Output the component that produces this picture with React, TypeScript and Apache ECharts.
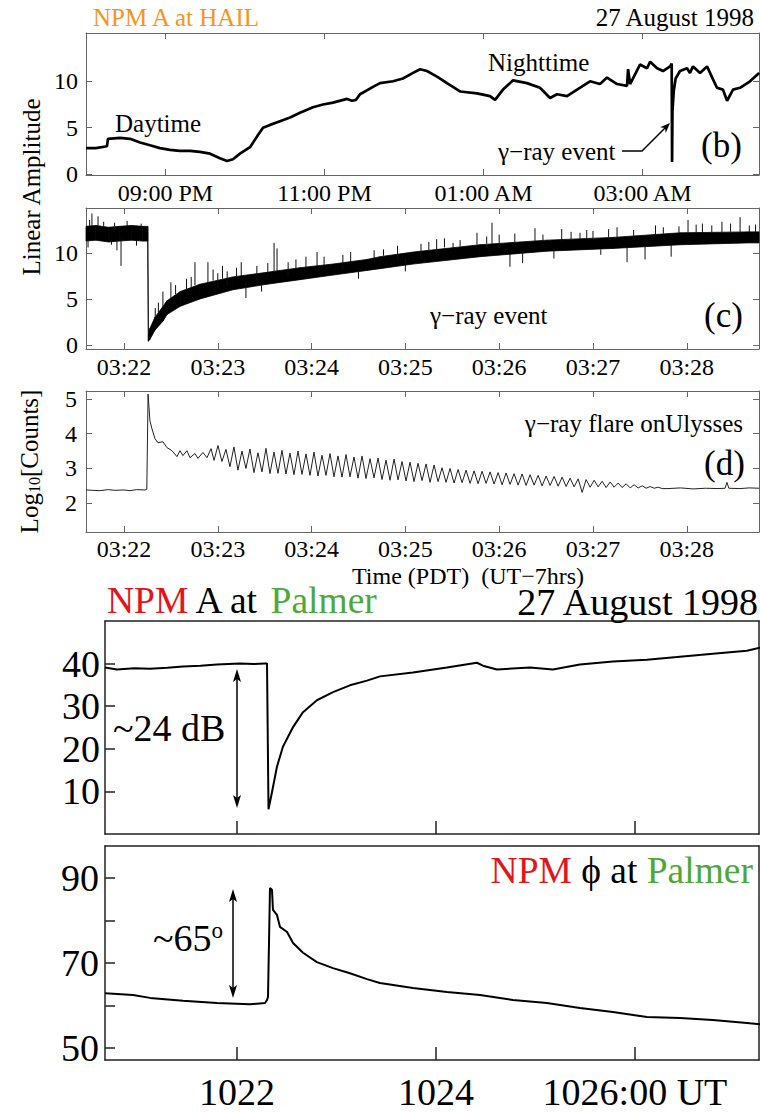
import React, { useEffect, useRef } from 'react';
import * as echarts from 'echarts';

const FONT = 'Liberation Serif';

// ---------- Panel (b): NPM A at HAIL, minutes after 20:00 PDT ----------
const bMinutes = [0, 7.5, 15.8, 16.6, 25.7, 33.2, 40.8, 48.3, 55.8, 63.4, 70.9, 78.5, 86.0, 93.6, 101.1, 106.4, 110.9, 116.2, 123.8, 129.8, 133.6, 138.9, 146.4, 154.0, 161.5, 171.3, 178.9, 186.4, 197.0, 200.8, 203.8, 206.8, 216.6, 221.9, 231.7, 239.2, 246.8, 252.1, 257.3, 264.9, 272.4, 282.3, 295.1, 304.9, 308.7, 314.7, 322.3, 332.8, 342.6, 350.2, 355.5, 363.0, 370.6, 380.4, 387.9, 393.2, 400.8, 408.3, 409.1, 410.6, 418.1, 423.4, 425.7, 431.0, 435.5, 440.8, 442.0, 442.3, 442.6, 443.6, 445.0, 448.3, 453.6, 455.8, 458.1, 463.4, 468.7, 473.2, 476.2, 480.7, 483.8, 488.3, 493.6, 501.1, 508.0];
const bAmplitude = [2.8, 2.8, 3.0, 3.8, 3.9, 3.8, 3.4, 3.1, 2.8, 2.6, 2.5, 2.5, 2.4, 2.2, 1.7, 1.4, 1.6, 2.2, 2.9, 4.2, 5.0, 5.3, 5.7, 6.1, 6.6, 7.2, 7.5, 7.7, 8.1, 7.9, 8.0, 8.6, 9.4, 9.8, 10.0, 10.3, 10.9, 11.3, 11.1, 10.5, 9.8, 8.9, 8.7, 8.4, 8.0, 9.1, 10.1, 9.8, 9.3, 8.2, 8.6, 8.4, 9.1, 10.0, 9.7, 10.4, 9.7, 9.5, 11.3, 9.7, 11.8, 11.4, 12.1, 11.4, 11.1, 11.6, 11.9, 1.3, 6.8, 9.0, 10.3, 11.1, 11.4, 10.9, 11.6, 10.9, 11.6, 10.2, 9.3, 9.1, 7.9, 9.1, 9.3, 10.0, 10.9];
const bTickMinutes = [60, 180, 300, 420];
const bTickLabels = ['09:00 PM', '11:00 PM', '01:00 AM', '03:00 AM'];
const bYTicks = [0, 5, 10];

// ---------- Panel (c): seconds after 03:22:00 PDT, noisy band ----------
const cSeconds = [-24.3, -18, -10, -3, 5, 12, 15.2, 15.6, 16.6, 19.8, 25, 27.5, 36, 48.6, 69.7, 91.5, 112.6, 133.7, 155.4, 163.8, 184.9, 227.7, 270.6, 312.8, 355.7, 398.5, 406.2];
const cLow = [11.3, 11.4, 11.2, 11.3, 11.4, 11.3, 11.3, 0.4, 0.6, 1.6, 2.6, 3.3, 4.2, 5.0, 6.0, 6.6, 7.1, 7.6, 8.1, 8.3, 8.8, 9.6, 10.2, 10.5, 10.9, 11.1, 11.1];
const cHigh = [12.9, 13.0, 12.8, 12.9, 13.0, 12.9, 12.9, 1.0, 1.8, 3.0, 4.2, 4.8, 5.8, 6.6, 7.4, 7.9, 8.4, 8.8, 9.3, 9.6, 10.1, 10.9, 11.4, 11.7, 12.2, 12.3, 12.3];
const cSpikeSeconds = [-23, -22, -20.5, -16.6, -13, -8, -6, -4.5, -1.9, 2, 8, 11, 20, 22, 24.9, 30, 33, 40, 43, 45.4, 53.7, 57, 60, 63, 66, 72, 75, 78.0, 85, 88, 92, 96.0, 97.9, 105, 110, 116.4, 123.5, 128, 140, 145, 150, 160, 166, 175, 180, 190, 195, 200, 205, 210.5, 215, 225.8, 232, 235.4, 240, 246.9, 250, 255, 262.9, 268, 275, 280, 286, 291.7, 296, 300, 305, 310, 315.4, 321.8, 326, 333.3, 340, 345, 350, 355, 360.8, 366, 370, 376, 382.5, 388, 394.1, 400, 404];
const cSpikeLow = [10.6, 12.9, 12.9, 12.9, 12.9, 10.9, 12.9, 10.3, 8.6, 12.9, 10.8, 12.9, 3.0, 3.5, 4.2, 5.0, 5.5, 6.0, 6.2, 6.5, 6.6, 7.0, 6.2, 7.2, 6.4, 7.5, 7.5, 5.1, 6.9, 5.8, 7.9, 7.9, 7.9, 7.5, 8.3, 8.4, 8.5, 8.7, 8.2, 9.0, 7.2, 9.0, 9.7, 9.3, 8.0, 9.5, 10.3, 10.2, 10.6, 10.5, 10.7, 10.9, 11.0, 11.0, 10.9, 8.5, 11.2, 8.9, 11.3, 11.4, 9.4, 11.3, 11.5, 11.5, 11.6, 11.6, 9.8, 11.7, 11.7, 9.0, 11.8, 9.3, 11.9, 12.1, 9.6, 12.2, 12.2, 12.2, 12.1, 12.2, 12.3, 12.3, 12.3, 12.3, 12.3];
const cSpikeHigh = [11.4, 13.6, 14.3, 14.0, 13.4, 11.4, 13.3, 11.5, 11.5, 13.5, 11.4, 13.2, 4.0, 4.6, 5.8, 6.8, 6.5, 7.2, 7.4, 9.0, 9.0, 8.2, 7.8, 8.6, 8.0, 8.4, 9.0, 6.8, 8.6, 6.5, 8.9, 11.1, 10.5, 9.0, 9.3, 9.6, 10.1, 9.6, 9.8, 10.1, 8.0, 10.3, 10.4, 10.8, 9.4, 11.0, 11.2, 11.5, 11.6, 11.1, 11.4, 12.2, 11.8, 13.3, 12.0, 9.9, 12.1, 10.2, 12.7, 12.0, 10.2, 12.6, 12.3, 12.2, 12.5, 12.4, 10.4, 12.6, 12.8, 10.6, 12.5, 10.7, 13.0, 12.8, 10.9, 12.9, 13.6, 13.1, 13.2, 13.0, 13.4, 13.2, 13.9, 13.0, 13.1];
const cdTickSeconds = [0, 60, 120, 180, 240, 300, 360];
const cdTickLabels = ['03:22', '03:23', '03:24', '03:25', '03:26', '03:27', '03:28'];
const cYTicks = [0, 5, 10];

// ---------- Panel (d): log10 counts on Ulysses ----------
const dPreSeconds = [-24.3, -20, -15.4, -10, -5.8, 0, 3.8, 8, 13.4, 14.6, 15.4, 16.6, 17.9, 19.8, 21.7, 24.9, 27.5, 30.7, 33.9, 35.8, 37.7, 40.3, 42.2, 45.4, 47.3, 50.5, 53.1, 55.7, 57.6];
const dPreValues = [2.38, 2.37, 2.36, 2.39, 2.37, 2.38, 2.36, 2.39, 2.38, 2.40, 5.14, 4.37, 4.14, 3.86, 3.74, 3.77, 3.60, 3.51, 3.34, 3.51, 3.37, 3.51, 3.31, 3.43, 3.29, 3.46, 3.31, 3.57, 3.23];
// spin modulation: alternating peak / trough samples, every half spin period
const dOscStart = 60.1;
const dOscStep = 2.56;
const dOscValues = [
  3.66, 3.20, 3.55, 3.05, 3.62, 2.95, 3.50, 3.00, 3.56, 2.88, 3.45, 2.90, 3.58, 2.85, 3.47, 2.86,
  3.52, 2.84, 3.44, 2.82, 3.50, 2.83, 3.42, 2.80, 3.47, 2.78, 3.38, 2.80, 3.43, 2.76, 3.36, 2.75,
  3.40, 2.76, 3.33, 2.72, 3.36, 2.71, 3.28, 2.73, 3.30, 2.68, 3.24, 2.66, 3.27, 2.67, 3.20, 2.64,
  3.18, 2.62, 3.15, 2.65, 3.13, 2.60, 3.10, 2.62, 3.02, 2.60, 3.00, 2.58, 2.97, 2.59, 2.95, 2.57,
  2.93, 2.56, 2.92, 2.57, 2.90, 2.55, 2.88, 2.53, 2.87, 2.54, 2.85, 2.52, 2.84, 2.51, 2.82, 2.52,
  2.80, 2.50, 2.78, 2.51, 2.77, 2.49, 2.75, 2.48, 2.72, 2.47, 2.70, 2.31, 2.68, 2.46, 2.66, 2.47,
  2.63, 2.45, 2.61, 2.46, 2.58, 2.45, 2.56, 2.44, 2.53, 2.44, 2.50, 2.43, 2.48, 2.43, 2.46, 2.42,
];
const dPostSeconds = [348, 356, 364, 372, 380, 384.5, 385.7, 386.9, 394, 400, 406.2];
const dPostValues = [2.42, 2.44, 2.41, 2.43, 2.42, 2.43, 2.60, 2.43, 2.42, 2.44, 2.43];
const dYTicks = [2, 3, 4, 5];

// ---------- Bottom panels: seconds after 10:22:00 UT at Palmer ----------
const aSeconds = [-79.6, -72.4, -62, -52.5, -42, -32.6, -22, -12.1, 1.8, 10, 16.9, 18.1, 19.0, 21.1, 24.1, 27.7, 33.8, 39.8, 48.2, 57.9, 68.1, 78.4, 86.2, 106.1, 126.6, 144.7, 148.3, 156.8, 176.7, 190.5, 206.8, 226.7, 247.2, 267.1, 287.0, 307.5, 315.4];
const aAmplitudeDb = [39.1, 38.6, 38.9, 38.8, 39.0, 39.3, 39.5, 39.8, 40.0, 39.9, 40.0, 40.0, 5.8, 9.8, 15.8, 20.5, 25.1, 28.6, 31.4, 33.3, 34.9, 36.0, 37.0, 37.9, 39.1, 40.2, 39.5, 38.6, 39.1, 38.6, 39.8, 40.5, 40.9, 41.6, 42.3, 43.0, 43.7];
const aYTicks = [10, 20, 30, 40];

const pSeconds = [-79.6, -62.7, -52.5, -32.6, -12.1, 7.8, 16.9, 18.1, 18.7, 19.9, 21.1, 21.7, 24.1, 25.9, 30.2, 33.8, 39.8, 48.2, 57.9, 68.1, 78.4, 86.2, 106.1, 126.6, 146.5, 166.4, 186.9, 206.8, 226.7, 247.2, 267.1, 287.0, 307.5, 315.4];
const pPhaseDeg = [62.9, 62.5, 61.8, 61.1, 60.6, 60.3, 60.6, 61.3, 62.0, 87.6, 87.2, 82.5, 81.3, 78.5, 77.3, 74.7, 72.4, 70.2, 68.8, 67.6, 66.2, 65.3, 64.1, 63.2, 62.5, 61.3, 60.6, 59.4, 58.5, 57.3, 57.1, 56.6, 55.9, 55.6];
const pYTicks = [50, 60, 70, 80, 90];
const pYLabels = [50, 70, 90];

const utTickSeconds = [0, 120, 240];
const utTickLabels = ['1022', '1024', '1026:00 UT'];

const zip = (xs: number[], ys: number[]) => xs.map((x, i) => [x, ys[i]]);

function buildOption() {
  const upperLine = { color: '#666', width: 1 };
  const lowerLine = { color: '#222', width: 1.5 };

  const xAx = (grid: number, pos: string, min: number, max: number, ticks: number[], labels: string[] | null, line: any, tickLen: number, fontSize: number, margin: number) => ({
    type: 'value', gridIndex: grid, position: pos, min, max,
    splitLine: { show: false },
    axisLine: { show: true, onZero: false, lineStyle: line },
    axisTick: { show: ticks.length > 0, inside: true, length: tickLen, customValues: ticks, lineStyle: line },
    axisLabel: labels ? {
      show: true, customValues: ticks, margin,
      formatter: (v: number) => { const k = ticks.indexOf(v); return k >= 0 ? labels[k] : ''; },
      fontFamily: FONT, fontSize, color: '#000',
    } : { show: false },
  });
  const yAx = (grid: number, pos: string, min: number, max: number, ticks: number[], labelVals: number[] | null, line: any, tickLen: number, fontSize: number, margin: number, extra: any = {}) => ({
    type: 'value', gridIndex: grid, position: pos, min, max,
    splitLine: { show: false },
    axisLine: { show: true, onZero: false, lineStyle: line },
    axisTick: { show: ticks.length > 0, inside: true, length: tickLen, customValues: ticks, lineStyle: line },
    axisLabel: labelVals ? {
      show: true, customValues: labelVals, margin,
      formatter: (v: number) => String(v),
      fontFamily: FONT, fontSize, color: '#000',
    } : { show: false },
    ...extra,
  });

  const xAxis = [
    xAx(0, 'bottom', 0, 507.9, bTickMinutes, bTickLabels, upperLine, 6, 24, 6),
    xAx(0, 'top', 0, 507.9, bTickMinutes, null, upperLine, 6, 24, 6),
    xAx(1, 'bottom', -24.3, 406.2, cdTickSeconds, cdTickLabels, upperLine, 6, 24, 6),
    xAx(1, 'top', -24.3, 406.2, cdTickSeconds, null, upperLine, 6, 24, 6),
    xAx(2, 'bottom', -24.3, 406.2, cdTickSeconds, cdTickLabels, upperLine, 6, 24, 5),
    xAx(2, 'top', -24.3, 406.2, cdTickSeconds, null, upperLine, 6, 24, 5),
    xAx(3, 'bottom', -79.6, 314.8, utTickSeconds, null, lowerLine, 13, 38, 13),
    xAx(3, 'top', -79.6, 314.8, [], null, lowerLine, 13, 38, 13),
    xAx(4, 'bottom', -79.6, 314.8, utTickSeconds, utTickLabels, lowerLine, 13, 38, 13),
    xAx(4, 'top', -79.6, 314.8, [], null, lowerLine, 13, 38, 13),
  ];

  const yAxis = [
    yAx(0, 'left', -0.1, 15.2, bYTicks, bYTicks, upperLine, 6, 24, 8),
    yAx(0, 'right', -0.1, 15.2, bYTicks, null, upperLine, 6, 24, 8),
    yAx(1, 'left', -0.45, 14.9, cYTicks, cYTicks, upperLine, 6, 24, 8),
    yAx(1, 'right', -0.45, 14.9, cYTicks, null, upperLine, 6, 24, 8),
    yAx(2, 'left', 1.17, 5.23, dYTicks, dYTicks, upperLine, 6, 24, 9, {
      name: '{a|Log}{s|10}{a|[Counts]}', nameLocation: 'middle', nameRotate: 90, nameGap: 44,
      nameTextStyle: {
        fontFamily: FONT, color: '#000',
        rich: {
          a: { fontFamily: FONT, fontSize: 25, color: '#000', verticalAlign: 'bottom' },
          s: { fontFamily: FONT, fontSize: 16, color: '#000', verticalAlign: 'bottom' },
        },
      },
    }),
    yAx(2, 'right', 1.17, 5.23, dYTicks, null, upperLine, 6, 24, 9),
    yAx(3, 'left', 0, 50, aYTicks, aYTicks, lowerLine, 10, 38, 5),
    yAx(3, 'right', 0, 50, [], null, lowerLine, 10, 38, 5),
    yAx(4, 'left', 47.2, 97.5, pYTicks, pYLabels, lowerLine, 10, 38, 6),
    yAx(4, 'right', 47.2, 97.5, [], null, lowerLine, 10, 38, 6),
  ];

  const dData: number[][] = zip(dPreSeconds, dPreValues);
  dOscValues.forEach((v, i) => dData.push([dOscStart + i * dOscStep, v]));
  zip(dPostSeconds, dPostValues).forEach((p) => dData.push(p));

  const lineSeries = (xi: number, data: number[][], width: number, color = '#000') => ({
    type: 'line', xAxisIndex: xi, yAxisIndex: xi, data, showSymbol: false, symbol: 'none',
    lineStyle: { color, width }, itemStyle: { color }, z: 3, silent: true,
  });

  // band segments between consecutive samples of the noise envelope
  const cBand = cSeconds.slice(0, -1).map((t, i) => [t, cLow[i], cHigh[i], cSeconds[i + 1], cLow[i + 1], cHigh[i + 1]]);

  const series: any[] = [
    lineSeries(0, zip(bMinutes, bAmplitude), 2.7),
    {
      type: 'custom', xAxisIndex: 2, yAxisIndex: 2, silent: true,
      data: cBand,
      encode: { x: [0, 3], y: [1, 2, 4, 5] },
      renderItem: (_p: any, api: any) => {
        const p1 = api.coord([api.value(0), api.value(2)]);
        const p2 = api.coord([api.value(3), api.value(5)]);
        const p3 = api.coord([api.value(3), api.value(4)]);
        const p4 = api.coord([api.value(0), api.value(1)]);
        return { type: 'polygon', shape: { points: [p1, p2, p3, p4] }, style: { fill: '#000', stroke: '#000', lineWidth: 0.8 } };
      },
    },
    {
      type: 'custom', xAxisIndex: 2, yAxisIndex: 2, silent: true,
      data: cSpikeSeconds.map((t, i) => [t, cSpikeLow[i], cSpikeHigh[i]]),
      encode: { x: 0, y: [1, 2] },
      renderItem: (_p: any, api: any) => {
        const a = api.coord([api.value(0), api.value(1)]);
        const b = api.coord([api.value(0), api.value(2)]);
        return { type: 'line', shape: { x1: a[0], y1: a[1], x2: b[0], y2: b[1] }, style: { stroke: '#111', lineWidth: 1 } };
      },
    },
    lineSeries(4, dData, 1, '#222'),
    lineSeries(6, zip(aSeconds, aAmplitudeDb), 2),
    lineSeries(8, zip(pSeconds, pPhaseDeg), 2),
  ];

  const txt = (text: string, x: number, y: number, fontSize: number, align = 'left', fill = '#000', extra: any = {}) => ({
    type: 'text', x, y, silent: true, z: 10,
    style: { text, fontFamily: FONT, fontSize, fill, textAlign: align, textVerticalAlign: 'middle', ...extra },
  });
  const headUp = (x: number, y: number) => ({ type: 'polygon', silent: true, z: 10, shape: { points: [[x, y], [x - 4, y + 13], [x, y + 10], [x + 4, y + 13]] }, style: { fill: '#000' } });
  const headDown = (x: number, y: number) => ({ type: 'polygon', silent: true, z: 10, shape: { points: [[x, y], [x - 4, y - 13], [x, y - 10], [x + 4, y - 13]] }, style: { fill: '#000' } });
  const palmerRich = (size: number) => ({
    r: { fill: '#E3151B', fontFamily: FONT, fontSize: size },
    g: { fill: '#4DA83A', fontFamily: FONT, fontSize: size },
  });

  const graphic = [
    txt('NPM A at HAIL', 93, 17, 25, 'left', '#F7941D'),
    txt('27 August 1998', 754, 17, 25, 'right'),
    txt('Daytime', 115, 123, 25),
    txt('Nighttime', 488, 62, 25),
    txt('γ−ray event', 498, 151, 25),
    txt('(b)', 701, 145, 35),
    { type: 'polyline', silent: true, z: 10, shape: { points: [[622, 151], [642, 151], [665, 128]] }, style: { stroke: '#000', lineWidth: 1.5, fill: null } },
    { type: 'polygon', silent: true, z: 10, shape: { points: [[670, 123], [665.7, 132.9], [665, 128], [660.1, 127.3]] }, style: { fill: '#000' } },
    { type: 'text', x: 31, y: 187, rotation: Math.PI / 2, silent: true, style: { text: 'Linear Amplitude', fontFamily: FONT, fontSize: 25, fill: '#000', textAlign: 'center', textVerticalAlign: 'middle' } },
    txt('γ−ray event', 430, 315, 25),
    txt('(c)', 704, 315, 35),
    txt('γ−ray flare onUlysses', 743, 423, 25, 'right'),
    txt('(d)', 704, 463, 35),
    txt('Time (PDT)  (UT−7hrs)', 468, 576, 24, 'center'),
    txt('{r|NPM} A at {g|Palmer}', 107, 600, 37.5, 'left', '#000', { rich: palmerRich(37.5) }),
    txt('27 August 1998', 758, 602, 38, 'right'),
    txt('~24 dB', 113, 728, 38),
    { type: 'line', silent: true, z: 10, shape: { x1: 237, y1: 675, x2: 237, y2: 803 }, style: { stroke: '#000', lineWidth: 1.5 } },
    headUp(237, 669),
    headDown(237, 808),
    txt('{a|~65}{s|o}', 153, 938, 38, 'left', '#000', {
      rich: {
        a: { fontFamily: FONT, fontSize: 38, fill: '#000', verticalAlign: 'top' },
        s: { fontFamily: FONT, fontSize: 23, fill: '#000', verticalAlign: 'top' },
      },
    }),
    { type: 'line', silent: true, z: 10, shape: { x1: 233, y1: 895, x2: 233, y2: 992 }, style: { stroke: '#000', lineWidth: 1.5 } },
    headUp(233, 889),
    headDown(233, 998),
    txt('{r|NPM} ϕ at {g|Palmer}', 753, 870, 37.5, 'right', '#000', { rich: palmerRich(37.5) }),
  ];

  return {
    animation: false,
    backgroundColor: '#fff',
    grid: [
      { left: 86, top: 33, width: 673, height: 142 },
      { left: 86, top: 208, width: 673, height: 141 },
      { left: 86, top: 391, width: 673, height: 141 },
      { left: 105, top: 621, width: 654, height: 213 },
      { left: 105, top: 846, width: 654, height: 214 },
    ],
    xAxis,
    yAxis,
    series,
    graphic,
  };
}

export default function App() {
  const ref = useRef<HTMLDivElement>(null);
  useEffect(() => {
    if (!ref.current) return;
    const chart = echarts.init(ref.current, null, { renderer: 'svg' });
    chart.setOption(buildOption() as any);
    return () => chart.dispose();
  }, []);
  return (
    <div
      ref={ref}
      style={{ position: 'absolute', left: 0, top: 0, width: 760, height: 1112, background: '#fff' }}
    />
  );
}
